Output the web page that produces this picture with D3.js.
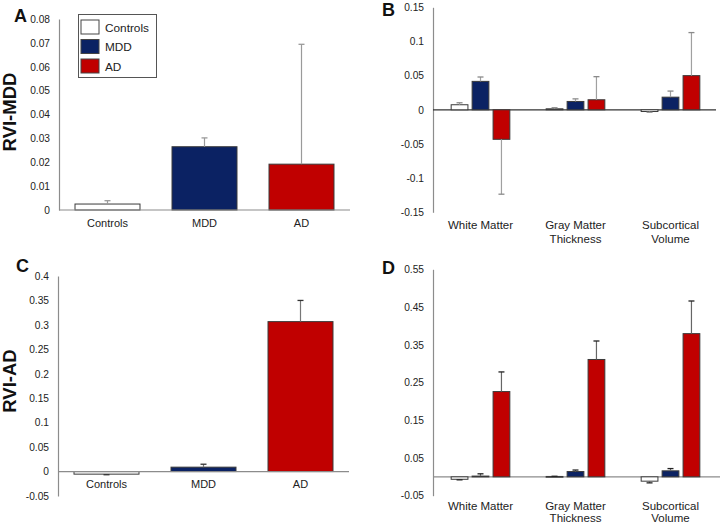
<!DOCTYPE html>
<html><head><meta charset="utf-8">
<script src="https://cdn.jsdelivr.net/npm/d3@7"></script>
<style>body{margin:0;background:#fff}svg{display:block;font-family:"Liberation Sans",Arial,sans-serif}</style>
</head><body><svg id="c" width="720" height="525"></svg>
<script>
const series = ["Controls", "MDD", "AD"];
const colors = ["#ffffff", "#0b2263", "#c00000"];
const regions = ["White Matter", "Gray Matter|Thickness", "Subcortical|Volume"];

// Panel A: RVI-MDD overall
const aValues = [0.0025, 0.0265, 0.0192];
const aErrors = [0.0014, 0.0037, 0.0502];
const aTicks = [0, 0.01, 0.02, 0.03, 0.04, 0.05, 0.06, 0.07, 0.08];

// Panel B: RVI-MDD by region (rows = series, columns = regions)
const bControls = [0.0074, 0.0015, -0.0025];
const bMDD = [0.0416, 0.0122, 0.0185];
const bAD = [-0.0432, 0.0147, 0.050];
const bControlsErr = [0.0029, 0.0015, 0.0010];
const bMDDErr = [0.0064, 0.0038, 0.0089];
const bADErr = [0.0803, 0.0338, 0.063];
const bTicks = [-0.15, -0.1, -0.05, 0, 0.05, 0.1, 0.15];

// Panel C: RVI-AD overall
const cValues = [-0.0053, 0.009, 0.3067];
const cErrors = [0.0012, 0.006, 0.0433];
const cTicks = [-0.05, 0, 0.05, 0.1, 0.15, 0.2, 0.25, 0.3, 0.35, 0.4];

// Panel D: RVI-AD by region
const dControls = [-0.0065, 0.001, -0.0115];
const dMDD = [0.002, 0.014, 0.0159];
const dAD = [0.226, 0.311, 0.3795];
const dControlsErr = [0.0015, 0.0005, 0.0045];
const dMDDErr = [0.006, 0.004, 0.006];
const dADErr = [0.052, 0.049, 0.0865];
const dTicks = [-0.05, 0.05, 0.15, 0.25, 0.35, 0.45, 0.55];

const svg = d3.select("#c");
const fmt = d => String(+d.toFixed(2));

function yAxis(y, ticks, x0) {
  const g = svg.append("g");
  const ax = d3.axisLeft(y).tickValues(ticks).tickFormat(fmt).tickSize(0).tickPadding(9);
  g.attr("transform", `translate(${x0},0)`).call(ax);
  g.select(".domain").attr("stroke", "#8c8c8c").attr("stroke-width", 1.2);
  g.selectAll("text").attr("font-size", 10.2).attr("fill", "#222").attr("font-family", "Liberation Sans, Arial, sans-serif");
}

function bar(x, w, y, v, e, color, errLine, errCap) {
  const y0 = y(0), y1 = y(v);
  svg.append("rect").attr("x", x).attr("width", w)
    .attr("y", Math.min(y0, y1)).attr("height", Math.max(0.8, Math.abs(y1 - y0)))
    .attr("fill", color).attr("stroke", "#3a3a3a").attr("stroke-width", 1);
  const ye = y(v + (v >= 0 ? e : -e));
  const cx = x + w / 2;
  svg.append("line").attr("x1", cx).attr("x2", cx).attr("y1", y1).attr("y2", ye)
    .attr("stroke", errLine).attr("stroke-width", 1.2);
  svg.append("line").attr("x1", cx - 3).attr("x2", cx + 3).attr("y1", ye).attr("y2", ye)
    .attr("stroke", errCap).attr("stroke-width", 1.3);
}

function simplePanel(values, errors, ticks, domain, yr, xr, labelY, errLine, errCap) {
  const y = d3.scaleLinear().domain(domain).range(yr);
  const x = d3.scaleBand().domain(series).range(xr).paddingInner(0.33).paddingOuter(0.165);
  yAxis(y, ticks, xr[0]);
  series.forEach((s, i) => bar(x(s), x.bandwidth(), y, values[i], errors[i], colors[i], errLine, errCap));
  svg.append("line").attr("x1", xr[0]).attr("x2", xr[1]).attr("y1", y(0)).attr("y2", y(0))
    .attr("stroke", "#8c8c8c").attr("stroke-width", 1.2);
  series.forEach(s => svg.append("text").attr("x", x(s) + x.bandwidth() / 2).attr("y", labelY)
    .attr("text-anchor", "middle").attr("font-size", 11).attr("fill", "#222").text(s));
}

function groupPanel(vals, errs, ticks, domain, yr, xr, zeroEnd, zeroColor, labelY, lineGap, errLine, errCap) {
  const y = d3.scaleLinear().domain(domain).range(yr);
  const x = d3.scaleBand().domain(regions).range(xr);
  const xs = d3.scaleBand().domain(series).range([0, x.bandwidth()]).paddingInner(0.2).paddingOuter(0.867);
  yAxis(y, ticks, xr[0]);
  svg.append("line").attr("x1", xr[0]).attr("x2", zeroEnd).attr("y1", y(0)).attr("y2", y(0))
    .attr("stroke", zeroColor).attr("stroke-width", 1.2);
  regions.forEach((r, j) => series.forEach((s, i) =>
    bar(x(r) + xs(s), xs.bandwidth(), y, vals[i][j], errs[i][j], colors[i], errLine, errCap)));
  regions.forEach(r => {
    const t = svg.append("text").attr("x", x(r) + x.bandwidth() / 2).attr("y", labelY)
      .attr("text-anchor", "middle").attr("font-size", 11.5).attr("fill", "#222");
    r.split("|").forEach((line, k) => t.append("tspan").attr("x", x(r) + x.bandwidth() / 2)
      .attr("dy", k ? lineGap : 0).text(line));
  });
}

// Panel A
simplePanel(aValues, aErrors, aTicks, [0, 0.08], [210, 19], [59, 350], 227, "#9a9a9a", "#9a9a9a");
// Panel B
groupPanel([bControls, bMDD, bAD], [bControlsErr, bMDDErr, bADErr], bTicks, [-0.15, 0.15], [212.3, 7.3],
  [433, 718], 716, "#333", 229, 14, "#a0a0a0", "#8a8a8a");
// Panel C
simplePanel(cValues, cErrors, cTicks, [-0.05, 0.4], [496, 276], [58, 349], 488, "#777", "#333");
// Panel D
groupPanel([dControls, dMDD, dAD], [dControlsErr, dMDDErr, dADErr], dTicks, [-0.05, 0.55], [495.7, 269.3],
  [433, 718], 720, "#8c8c8c", 509.5, 12.5, "#666", "#222");

// Legend (panel A)
const lg = svg.append("g");
lg.append("rect").attr("x", 78.5).attr("y", 14.5).attr("width", 78).attr("height", 63)
  .attr("fill", "#fff").attr("stroke", "#555").attr("stroke-width", 1);
series.forEach((s, i) => {
  const yy = 20 + i * 19.5;
  lg.append("rect").attr("x", 81).attr("y", yy).attr("width", 18).attr("height", 14)
    .attr("fill", colors[i]).attr("stroke", "#444").attr("stroke-width", 1);
  lg.append("text").attr("x", 105).attr("y", yy + 11.5).attr("font-size", 11.8).attr("fill", "#222").text(s);
});

// Panel letters and axis titles
[["A", 14, 22], ["B", 382, 16], ["C", 16, 272], ["D", 382, 274]].forEach(([t, x, y]) =>
  svg.append("text").attr("x", x).attr("y", y).attr("font-size", 18).attr("font-weight", "bold").attr("fill", "#111").text(t));
[["RVI-MDD", 112], ["RVI-AD", 381]].forEach(([t, cy]) =>
  svg.append("text").attr("transform", `translate(16,${cy}) rotate(-90)`).attr("text-anchor", "middle")
    .attr("font-size", 18.5).attr("font-weight", "bold").attr("fill", "#111").text(t));
</script></body></html>
